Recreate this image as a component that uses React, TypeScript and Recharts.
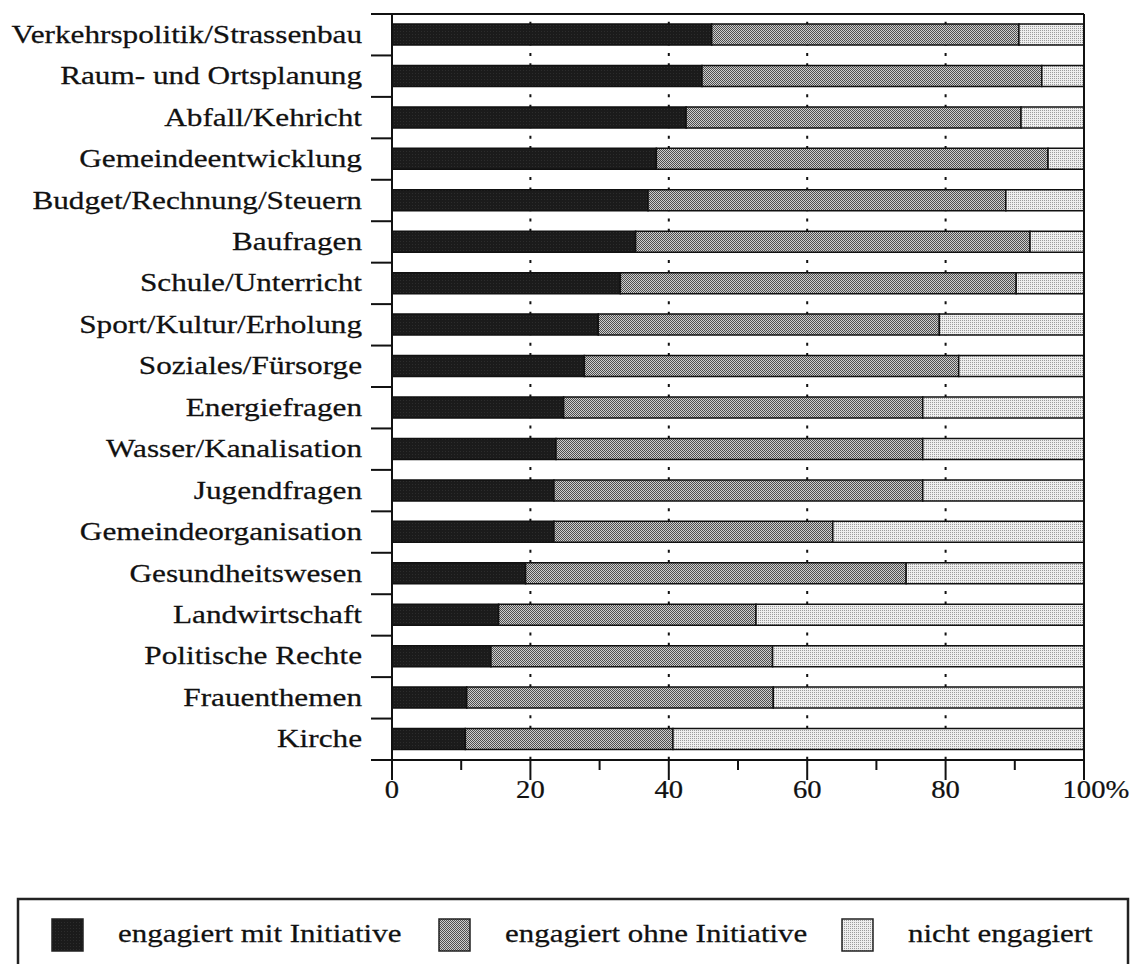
import React from 'react';
import { BarChart, Bar, XAxis, YAxis, CartesianGrid } from 'recharts';

const categories = [
  'Verkehrspolitik/Strassenbau',
  'Raum- und Ortsplanung',
  'Abfall/Kehricht',
  'Gemeindeentwicklung',
  'Budget/Rechnung/Steuern',
  'Baufragen',
  'Schule/Unterricht',
  'Sport/Kultur/Erholung',
  'Soziales/Fürsorge',
  'Energiefragen',
  'Wasser/Kanalisation',
  'Jugendfragen',
  'Gemeindeorganisation',
  'Gesundheitswesen',
  'Landwirtschaft',
  'Politische Rechte',
  'Frauenthemen',
  'Kirche',
];

const mitInitiative = [46.2, 44.8, 42.5, 38.2, 37.0, 35.2, 33.0, 29.8, 27.8, 24.8, 23.7, 23.4, 23.4, 19.3, 15.4, 14.3, 10.8, 10.6];
const ohneInitiative = [44.4, 49.1, 48.4, 56.6, 51.7, 57.0, 57.2, 49.3, 54.1, 51.9, 53.0, 53.3, 40.3, 55.0, 37.2, 40.7, 44.3, 30.0];
const nichtEngagiert = [9.4, 6.1, 9.1, 5.2, 11.3, 7.8, 9.8, 20.9, 18.1, 23.3, 23.3, 23.3, 36.3, 25.7, 47.4, 45.0, 44.9, 59.4];

const seriesNames = ['engagiert mit Initiative', 'engagiert ohne Initiative', 'nicht engagiert'];
const seriesKeys = ['mit', 'ohne', 'nicht'];
const seriesFills = ['url(#patDark)', 'url(#patMid)', 'url(#patLight)'];

const xMajorTicks = [0, 20, 40, 60, 80, 100];
const xTickLabels = ['0', '20', '40', '60', '80', '100%'];
const xMinorTicks = [10, 30, 50, 70, 90];
const xAllTicks = [0, 10, 20, 30, 40, 50, 60, 70, 80, 90, 100];

const data = categories.map((name, i) => ({
  name,
  mit: mitInitiative[i],
  ohne: ohneInitiative[i],
  nicht: nichtEngagiert[i],
}));

const FONT = '"Liberation Serif", "Times New Roman", Times, serif';
const INK = '#111';
const FS = 25;
const SX = 1.25;
const TICK_FS = 26;
const TICK_SX = 1.1;
const CAT_TICK_LEN = 21;
const PLOT_TOP = 14;
const PLOT_BOTTOM = 760;

const EmptyTick = () => <g />;

const CatTick = (props: any) => {
  const { x, y, payload, index, visibleTicksCount } = props;
  const n = visibleTicksCount || categories.length;
  const half = payload && payload.offset ? payload.offset : (PLOT_BOTTOM - PLOT_TOP) / n / 2;
  const isLast = index === n - 1;
  return (
    <g>
      <line x1={x - CAT_TICK_LEN} x2={x} y1={y - half} y2={y - half} stroke="#111" strokeWidth={2} />
      {isLast && <line x1={x - CAT_TICK_LEN} x2={x} y1={y + half} y2={y + half} stroke="#111" strokeWidth={2} />}
      <g transform={`translate(${x - 30},${y}) scale(${SX},1)`}>
        <text x={0} y={0} dy={8} textAnchor="end" fontFamily={FONT} fontSize={FS} fill={INK} stroke={INK} strokeWidth={0.25}>
          {payload.value}
        </text>
      </g>
    </g>
  );
};

const XTick = (props: any) => {
  const { x, y, payload } = props;
  const idx = xMajorTicks.indexOf(payload.value);
  const isMinor = xMinorTicks.indexOf(payload.value) >= 0;
  if (idx < 0) {
    return isMinor ? <line x1={x} x2={x} y1={y} y2={y + 10} stroke="#111" strokeWidth={2} /> : <g />;
  }
  const label = xTickLabels[idx];
  const hasPct = label.endsWith('%');
  const num = hasPct ? label.slice(0, -1) : label;
  return (
    <g>
      <line x1={x} x2={x} y1={y} y2={y + 20} stroke="#111" strokeWidth={2} />
      <g transform={`translate(${x},${y + 38}) scale(${TICK_SX},1)`}>
        <text x={0} y={0} textAnchor="middle" fontFamily={FONT} fontSize={TICK_FS} fill={INK} stroke={INK} strokeWidth={0.25}>
          {num}
        </text>
        {hasPct && (
          <text x={(num.length * TICK_FS) / 4} y={0} textAnchor="start" fontFamily={FONT} fontSize={TICK_FS} fill={INK} stroke={INK} strokeWidth={0.25}>
            %
          </text>
        )}
      </g>
    </g>
  );
};

const Patterns = () => (
  <svg width={0} height={0} style={{ position: 'absolute' }}>
    <defs>
      <pattern id="patDark" width={3} height={3} patternUnits="userSpaceOnUse">
        <rect width={3} height={3} fill="#1b1b1b" />
        <rect x={1} y={1} width={1} height={1} fill="#2c2c2c" />
      </pattern>
      <pattern id="patMid" width={2} height={2} patternUnits="userSpaceOnUse">
        <rect width={2} height={2} fill="#cdcdcd" />
        <rect x={0} y={0} width={1} height={1} fill="#4e4e4e" />
        <rect x={1} y={1} width={1} height={1} fill="#4e4e4e" />
      </pattern>
      <pattern id="patLight" width={2} height={2} patternUnits="userSpaceOnUse">
        <rect width={2} height={2} fill="#eeeeee" />
        <rect x={0} y={0} width={1} height={1} fill="#9c9c9c" />
      </pattern>
    </defs>
  </svg>
);

const LEG_FS = 26;
const LEG_SX = 1.19;
const legendSwatchX = [52, 439, 842];

const LegendBox = () => (
  <svg width={1133} height={964} style={{ position: 'absolute', left: 0, top: 0, pointerEvents: 'none' }}>
    <rect x={18} y={899} width={1110} height={90} fill="none" stroke="#222" strokeWidth={2.5} />
    {seriesNames.map((n, i) => (
      <g key={n}>
        <rect x={legendSwatchX[i]} y={919} width={31} height={32} fill={seriesFills[i]} stroke="#222" strokeWidth={1.5} />
        <g transform={`translate(${legendSwatchX[i] + 66},${942}) scale(${LEG_SX},1)`}>
          <text x={0} y={0} fontFamily={FONT} fontSize={LEG_FS} fill={INK} stroke={INK} strokeWidth={0.25}>
            {n}
          </text>
        </g>
      </g>
    ))}
  </svg>
);

export default function App() {
  const axisStroke = { stroke: '#111', strokeWidth: 2 };
  return (
    <div style={{ position: 'absolute', left: 0, top: 0, width: 1133, height: 964, overflow: 'hidden', background: '#fff' }}>
      <Patterns />
      <BarChart
        width={1133}
        height={964}
        data={data}
        layout="vertical"
        margin={{ top: 13, right: 48, bottom: 203, left: 391 }}
        barSize={21}
      >
        <CartesianGrid
          xAxisId="main"
          yAxisId="cat"
          horizontal={false}
          verticalValues={xMajorTicks}
          stroke="#111"
          strokeWidth={2}
          strokeDasharray="3 7.35"
          strokeDashoffset={2.5}
        />
        <XAxis
          xAxisId="main"
          type="number"
          domain={[0, 100]}
          ticks={xAllTicks}
          interval={0}
          height={1}
          tickSize={0}
          tickMargin={0}
          axisLine={axisStroke}
          tickLine={false}
          tick={<XTick />}
        />
        <XAxis
          xAxisId="top"
          orientation="top"
          type="number"
          domain={[0, 100]}
          height={1}
          axisLine={axisStroke}
          tickLine={false}
          tick={<EmptyTick />}
        />
        <YAxis
          yAxisId="cat"
          type="category"
          dataKey="name"
          width={1}
          interval={0}
          tickSize={0}
          tickMargin={0}
          tickLine={false}
          axisLine={axisStroke}
          tick={<CatTick />}
        />
        <YAxis
          yAxisId="right"
          orientation="right"
          type="number"
          domain={[0, 1]}
          width={1}
          axisLine={axisStroke}
          tickLine={false}
          tick={<EmptyTick />}
        />
        {seriesKeys.map((k, i) => (
          <Bar
            key={k}
            dataKey={k}
            name={seriesNames[i]}
            stackId="s"
            xAxisId="main"
            yAxisId="cat"
            fill={seriesFills[i]}
            stroke="#111"
            strokeWidth={1.5}
            isAnimationActive={false}
          />
        ))}
      </BarChart>
      <LegendBox />
    </div>
  );
}
